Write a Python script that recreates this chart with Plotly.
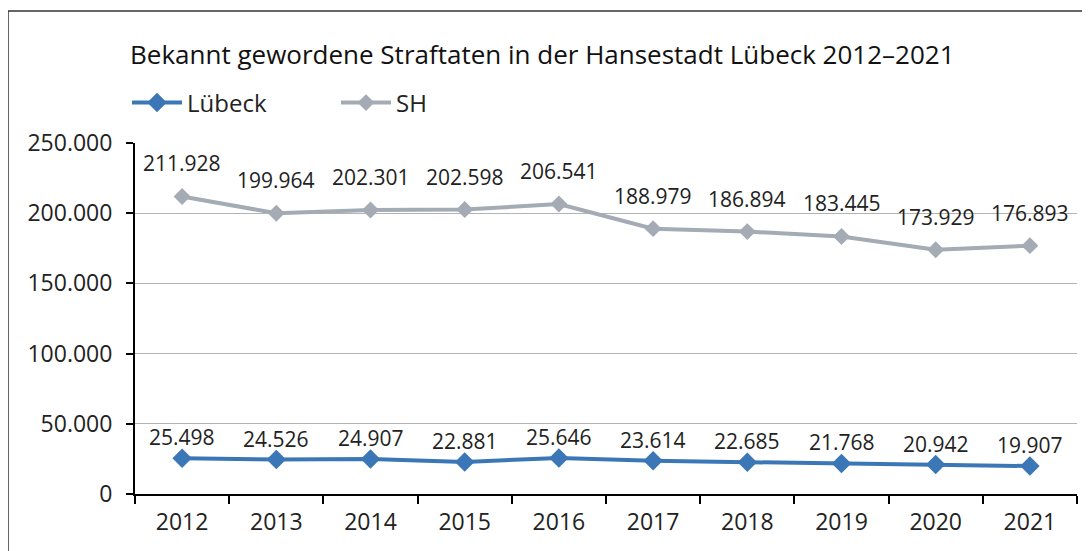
import plotly.graph_objects as go

years = ["2012", "2013", "2014", "2015", "2016", "2017", "2018", "2019", "2020", "2021"]
luebeck = [25498, 24526, 24907, 22881, 25646, 23614, 22685, 21768, 20942, 19907]
sh = [211928, 199964, 202301, 202598, 206541, 188979, 186894, 183445, 173929, 176893]
y_ticks = [0, 50000, 100000, 150000, 200000, 250000]

title = "Bekannt gewordene Straftaten in der Hansestadt Lübeck 2012–2021"
FONT = "Open Sans"
BLUE = "#3b77b7"
GRAY = "#a4abb4"
W, H = 1090, 551

def de(v):
    return f"{v:,}".replace(",", ".")

fig = go.Figure()
fig.add_trace(go.Scatter(x=years, y=luebeck, name="Lübeck", mode="lines+markers",
                         line=dict(color=BLUE, width=4),
                         marker=dict(symbol="diamond", size=15, color=BLUE)))
fig.add_trace(go.Scatter(x=years, y=sh, name="SH", mode="lines+markers",
                         line=dict(color=GRAY, width=4),
                         marker=dict(symbol="diamond", size=13, color=GRAY)))

ann = []
for i, v in enumerate(luebeck):
    ann.append(dict(x=i, y=v, xref="x", yref="y", text=de(v), showarrow=False, yshift=21,
                    font=dict(size=21, color="#222", family=FONT)))
for i, v in enumerate(sh):
    ann.append(dict(x=i, y=v, xref="x", yref="y", text=de(v), showarrow=False, yshift=33,
                    font=dict(size=21, color="#222", family=FONT)))

# page body has an 8px margin: figure coordinates are shifted by 8px
fig.update_layout(
    annotations=ann,
    width=W, height=H,
    margin=dict(l=127, r=21, t=135, b=65, autoexpand=False),
    paper_bgcolor="white", plot_bgcolor="white",
    separators=",.",
    font=dict(family=FONT, size=22, color="#222"),
    title=dict(text=title, x=122/W, xref="container", xanchor="left",
               y=1-47/H, yref="container", yanchor="middle",
               font=dict(size=26, family=FONT, color="#111")),
    showlegend=True,
    legend=dict(orientation="h", x=119/W, xref="container", xanchor="left",
                y=1-95/H, yref="container", yanchor="middle",
                entrywidth=144, entrywidthmode="pixels",
                font=dict(size=24, family=FONT, color="#222"),
                itemwidth=50, tracegroupgap=0),
    xaxis=dict(type="category", showline=True, linecolor="black", linewidth=2,
               ticks="outside", tickson="boundaries", ticklen=8, tickwidth=2,
               tickcolor="black", showgrid=False, tickfont=dict(size=23),
               ticklabelstandoff=6, range=[-0.5, 9.5]),
    yaxis=dict(range=[0, 250000], tickvals=y_ticks, tickformat=",d",
               showline=True, linecolor="black", linewidth=2,
               ticks="outside", ticklen=7, tickwidth=2, tickcolor="black",
               showgrid=True, gridcolor="#b3b3b3", gridwidth=1,
               zeroline=False, tickfont=dict(size=23), ticklabelstandoff=9),
    shapes=[dict(type="rect", xref="paper", yref="paper",
                 x0=-127/942, x1=1.1, y0=-0.3, y1=1+132/351,
                 line=dict(color="#333", width=1.5), layer="below")],
)

fig.write_html("out.html")
